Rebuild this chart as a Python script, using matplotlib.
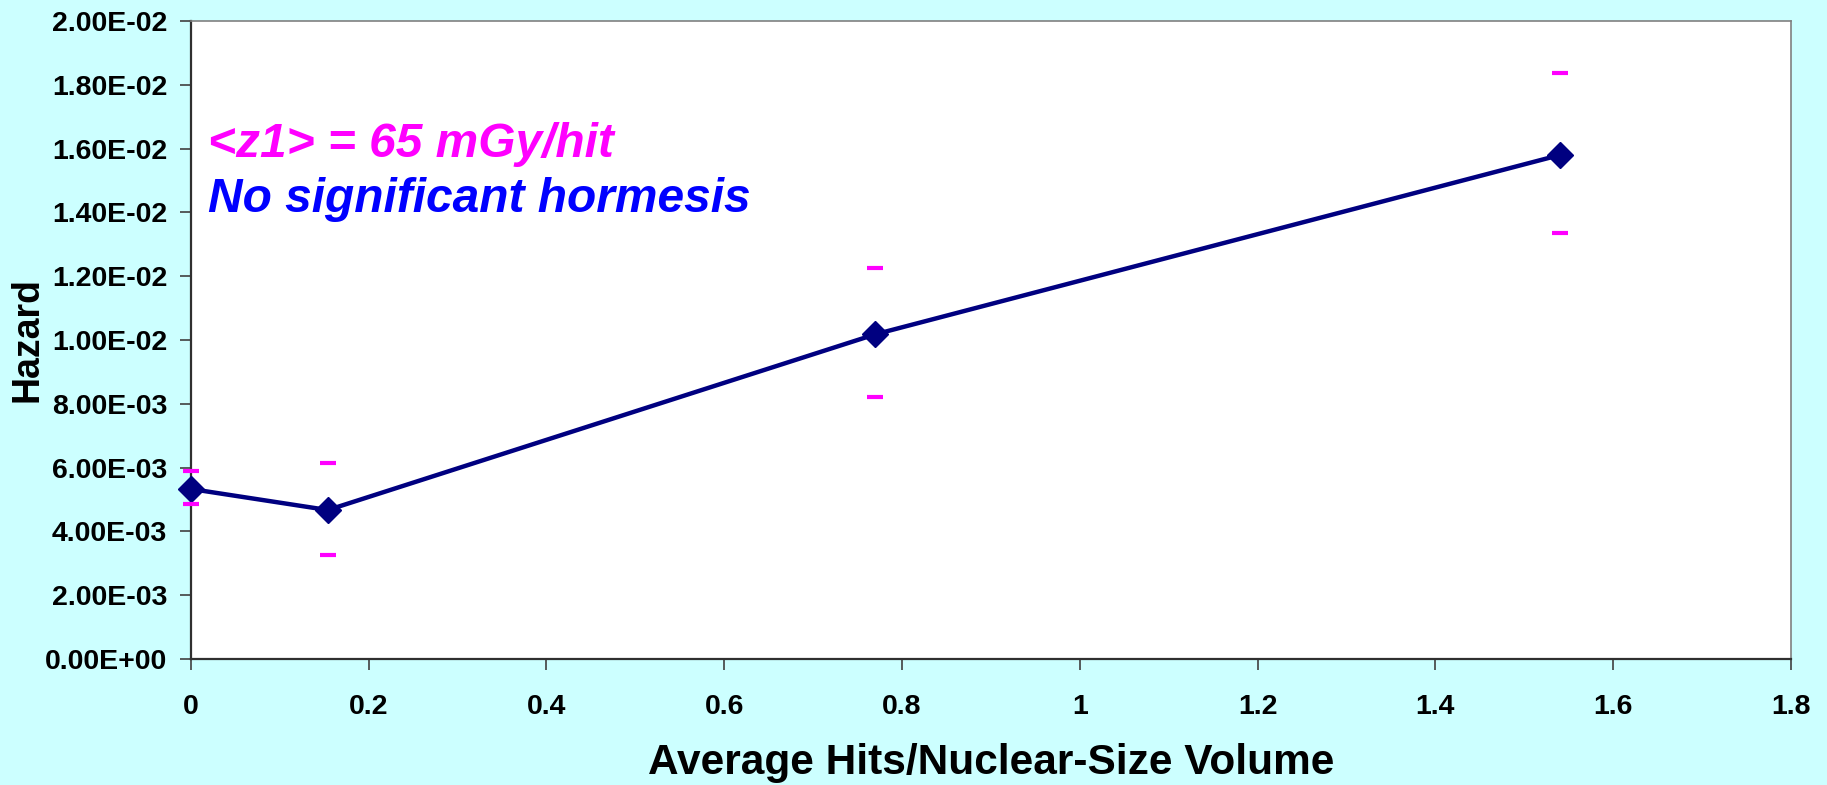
import matplotlib
matplotlib.use("Agg")
import matplotlib.pyplot as plt
from matplotlib.ticker import FixedLocator

plt.rcParams['font.family'] = ['Liberation Sans', 'DejaVu Sans']

hits = [0.0, 0.154, 0.77, 1.54]
hazard = [0.00533, 0.00467, 0.01018, 0.0158]
err_low = [0.00485, 0.00325, 0.00821, 0.01336]
err_high = [0.00588, 0.00613, 0.01226, 0.01836]

x_ticks = [0, 0.2, 0.4, 0.6, 0.8, 1, 1.2, 1.4, 1.6, 1.8]
x_tick_labels = ['0', '0.2', '0.4', '0.6', '0.8', '1', '1.2', '1.4', '1.6', '1.8']
y_ticks = [0, 0.002, 0.004, 0.006, 0.008, 0.010, 0.012, 0.014, 0.016, 0.018, 0.020]
y_tick_labels = ['0.00E+00', '2.00E-03', '4.00E-03', '6.00E-03', '8.00E-03',
                 '1.00E-02', '1.20E-02', '1.40E-02', '1.60E-02', '1.80E-02', '2.00E-02']

fig = plt.figure(figsize=(18.27, 7.85), dpi=100, facecolor='#CCFFFF')
ax = fig.add_axes([0.1045, 0.1605, 0.9803 - 0.1045, 0.9732 - 0.1605])
ax.set_facecolor('white')

ax.plot(hits, hazard, color='#000080', lw=3.2, marker='D', markersize=13,
        markerfacecolor='#000080', markeredgecolor='#000080', zorder=3, clip_on=False)
ax.plot(hits, err_low, ls='none', marker='_', markersize=11, markeredgewidth=3,
        color='#FF00FF', zorder=4, clip_on=False)
ax.plot(hits, err_high, ls='none', marker='_', markersize=11, markeredgewidth=3,
        color='#FF00FF', zorder=4, clip_on=False)

ax.set_xlim(0, 1.8)
ax.set_ylim(0, 0.02)
ax.xaxis.set_major_locator(FixedLocator(x_ticks))
ax.set_xticklabels(x_tick_labels)
ax.yaxis.set_major_locator(FixedLocator(y_ticks))
ax.set_yticklabels(y_tick_labels)

ax.tick_params(axis='both', direction='out', length=8, width=1.2, color='#404040',
               labelsize=20.5)
ax.tick_params(axis='y', pad=9)
ax.tick_params(axis='x', pad=17)
for lab in ax.get_xticklabels() + ax.get_yticklabels():
    lab.set_fontweight('bold')

for s in ['left', 'bottom']:
    ax.spines[s].set_color('#303030')
    ax.spines[s].set_linewidth(1.6)
for s in ['top', 'right']:
    ax.spines[s].set_color('#808080')
    ax.spines[s].set_linewidth(1.2)

fig.text(991 / 1827, 1 - 763 / 785, 'Average Hits/Nuclear-Size Volume', fontsize=30.5,
         fontweight='bold', ha='center', va='center')
fig.text(27.5 / 1827, 1 - 340 / 785, 'Hazard', fontsize=27, fontweight='bold',
         rotation=90, ha='center', va='center')

ax.text(0.0105, 0.807, '<z1> = 65 mGy/hit', transform=ax.transAxes, color='#FF00FF',
        fontsize=34.5, fontweight='bold', fontstyle='italic', va='center', ha='left')
ax.text(0.0105, 0.721, 'No significant hormesis', transform=ax.transAxes, color='#0000FF',
        fontsize=34.5, fontweight='bold', fontstyle='italic', va='center', ha='left')

fig.savefig('out.png', dpi=100, facecolor=fig.get_facecolor())
